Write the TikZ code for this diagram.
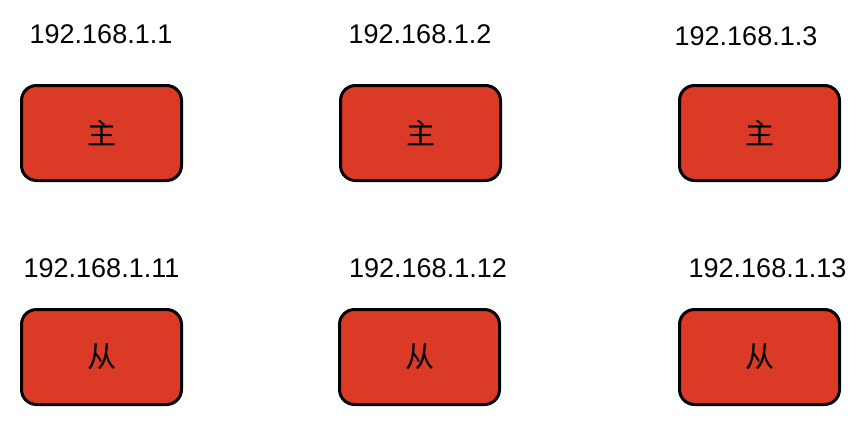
\documentclass[tikz,border=0pt]{standalone}
\usepackage{fontspec}
\setmainfont{Liberation Sans}
\newfontfamily\cjk{Noto Sans CJK SC}
\usetikzlibrary{positioning}
\definecolor{boxred}{HTML}{DB3A27}
\tikzset{
  server/.style={draw=black,line width=3pt,fill=boxred,rounded corners=15pt,
    minimum width=160pt,minimum height=95pt,inner sep=0pt,font=\cjk\fontsize{29}{32}\selectfont},
  ip/.style={anchor=base,inner sep=0pt,font=\fontsize{27}{30}\selectfont}
}
\begin{document}
\begin{tikzpicture}[x=1pt,y=-1pt]
		\useasboundingbox (0,0) rectangle (866,434);
		\node[server] (m_1) at (101.5,133) {主};
		\node[server] (m_2) at (420.5,133) {主};
		\node[server] (m_3) at (759.5,133) {主};
		\node[server] (s_1) at (101.5,357) {从};
		\node[server] (s_2) at (419.5,357) {从};
		\node[server] (s_3) at (759.5,357) {从};
		
		\node[ip] (ip_m1) at (101,43) {192.168.1.1};
		\node[ip] (ip_m2) at (420,43) {192.168.1.2};
		\node[ip] (ip_m3) at (746,45) {192.168.1.3};
		\node[ip] (ip_s1) at (101.5,277) {192.168.1.11};
		\node[ip] (ip_s2) at (428,277) {192.168.1.12};
		\node[ip] (ip_s3) at (767.5,277) {192.168.1.13};
	\end{tikzpicture}
\end{document}
